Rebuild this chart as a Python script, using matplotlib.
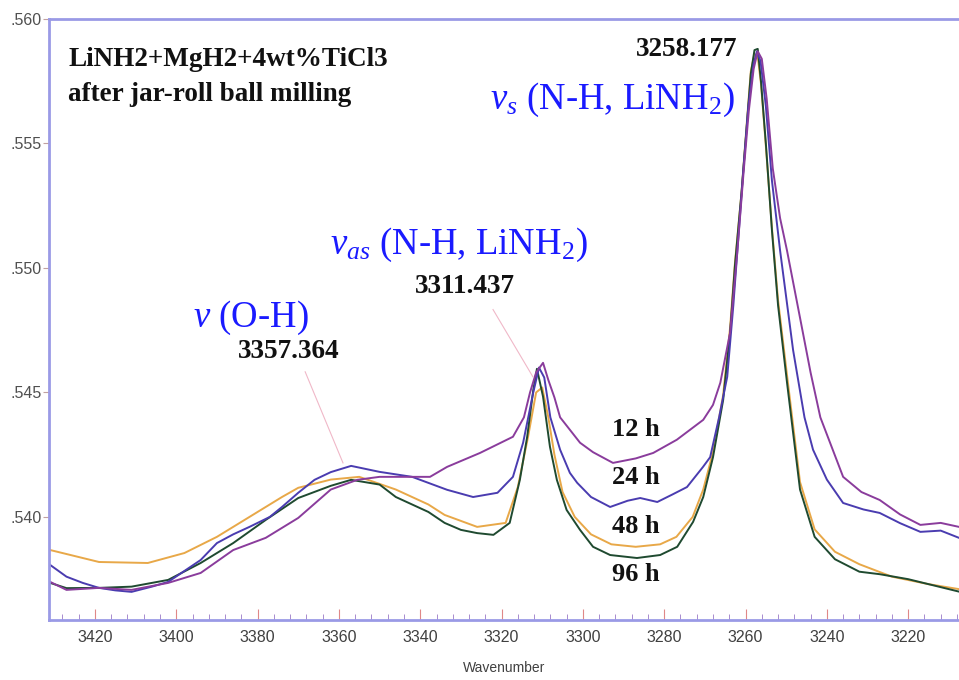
import numpy as np
import matplotlib.pyplot as plt
from matplotlib.ticker import MultipleLocator, FuncFormatter

plt.rcParams['mathtext.fontset'] = 'custom'
plt.rcParams['mathtext.rm'] = 'Liberation Serif'
plt.rcParams['mathtext.it'] = 'Liberation Serif:italic'

# spectra (wavenumber, absorbance)
wn_96 = [3431, 3427, 3419, 3411, 3402, 3394, 3386, 3378, 3370, 3362, 3357, 3350, 3346, 3338,
         3334, 3330, 3326, 3322, 3318, 3315.5, 3313.7, 3312.2, 3311.3, 3309.8, 3308.1, 3306.4,
         3304, 3300.7, 3297.5, 3293.3, 3286.7, 3281, 3276.8, 3272.9, 3270.4, 3268, 3265.5,
         3263.8, 3262.6, 3261, 3259.8, 3258.7, 3257.8, 3257, 3256.2, 3255, 3253.5, 3252,
         3249.8, 3246.6, 3243, 3238, 3232, 3227, 3220, 3213, 3207.5]
ab_96 = [.53735, .53714, .53715, .53720, .53747, .53815, .53895, .53988, .54076, .54125, .54149,
         .54130, .54080, .54020, .53976, .53948, .53935, .53928, .53976, .54149, .54322, .54510,
         .54595, .54483, .54282, .54149, .54028, .53948, .53880, .53847, .53835, .53847, .53880,
         .53980, .54080, .54240, .54470, .54740, .55010, .5530, .5555, .5578, .55875, .5588,
         .5575, .5550, .5515, .5485, .5454, .5411, .5392, .5383, .5378, .5377, .53750, .53722,
         .53700]

wn_48 = [3431, 3419, 3407, 3398, 3390, 3382, 3374, 3370, 3362, 3355, 3346, 3338, 3334, 3326,
         3319, 3316, 3313.5, 3311.5, 3310, 3308.5, 3307, 3305, 3302, 3298, 3293, 3287, 3281,
         3277, 3273, 3270.4, 3268, 3265.5, 3263.8, 3262.6, 3261, 3259.8, 3258.7, 3257.8, 3257,
         3256.2, 3255, 3253.5, 3252, 3249.8, 3246.6, 3243, 3238, 3232, 3224, 3215, 3207.5]
ab_48 = [.53867, .53819, .53815, .53855, .5392, .5400, .5408, .54117, .5415, .54161, .5411,
         .54050, .54008, .5396, .53976, .5412, .5432, .5450, .5452, .5440, .5425, .5410, .5400,
         .5393, .5389, .5388, .5389, .5392, .5400, .5411, .5426, .5449, .5476, .5502, .5530,
         .5556, .5579, .5586, .5585, .5574, .5549, .5516, .5487, .5457, .5414, .5395, .5386,
         .5381, .5376, .5373, .5371]

wn_24 = [3431, 3427, 3423, 3419, 3415, 3411, 3406, 3402, 3394, 3390, 3386, 3382, 3377, 3374,
         3370, 3366, 3362, 3357, 3350, 3342, 3333.4, 3327, 3321, 3317.2, 3314.7, 3312.2, 3310.8,
         3309.5, 3308, 3305.6, 3303.2, 3301.4, 3298, 3293.3, 3289, 3285.9, 3281.7, 3278, 3274.4,
         3270.5, 3268.7, 3266.5, 3264.5, 3263, 3262, 3260.5, 3259.3, 3258, 3257.2, 3256.3, 3255,
         3253.5, 3251.5, 3248.3, 3245.5, 3243.4, 3240, 3236, 3231, 3227, 3222, 3217, 3212, 3207.5]
ab_24 = [.53807, .53760, .53735, .53715, .53705, .53699, .53720, .53739, .53827, .53895, .53930,
         .53960, .5400, .5404, .54097, .54149, .54180, .54205, .54181, .54161, .54109, .54080,
         .54097, .54161, .54298, .54500, .54600, .54560, .5440, .5427, .54177, .54137, .5408,
         .54040, .54065, .54076, .54060, .5409, .54120, .5420, .54240, .5440, .54563, .5485,
         .5507, .5540, .5565, .5582, .5587, .5583, .5565, .5535, .5507, .5467, .5440, .5427,
         .5415, .54056, .54030, .54016, .53975, .53940, .53945, .53916]

wn_12 = [3431, 3427, 3419, 3411, 3402, 3394, 3386, 3378, 3370, 3362, 3355.5, 3350, 3337.6,
         3333.4, 3325.3, 3317.2, 3314.5, 3313, 3311.5, 3309.8, 3308.5, 3307, 3305.6, 3300.7,
         3297.5, 3292.6, 3287, 3282.7, 3276.9, 3270.4, 3268, 3266.2, 3263.8, 3262, 3260.5,
         3259.2, 3258, 3257, 3256, 3254.8, 3253.3, 3251.5, 3249.8, 3246.6, 3244, 3241.6, 3236,
         3231.5, 3227, 3222, 3217, 3212, 3207.5]
ab_12 = [.53739, .53707, .53715, .53707, .53735, .53775, .53867, .53916, .53996, .54110, .54149,
         .54161, .54161, .54201, .54257, .54322, .5440, .5450, .5458, .54619, .5455, .5448,
         .5440, .54298, .54260, .54217, .54235, .54257, .5431, .5439, .5445, .54539, .5474,
         .5507, .5538, .5563, .5580, .5587, .5584, .5568, .5540, .5520, .5507, .5480, .5458,
         .5440, .54161, .5410, .54068, .54010, .53968, .53976, .5396]

series = [(wn_48, ab_48, '#e8a848'), (wn_96, ab_96, '#1f4a30'),
          (wn_24, ab_24, '#4a3cb0'), (wn_12, ab_12, '#8a3c9c')]
hours = ['12 h', '24 h', '48 h', '96 h']
hour_y = [.5435, .5416, .5396, .5377]

fig = plt.figure(figsize=(9.59, 6.8), dpi=100)
ax = fig.add_axes([49/959, 60/680, 910/959, 601/680])

for wn, ab, c in series:
    ax.plot(wn, ab, color=c, lw=1.4)

ax.set_xlim(3431.3, 3207.5)
ax.set_ylim(0.53586, 0.560)

spine_c = '#9a9ae6'
for s in ['left', 'bottom', 'top']:
    ax.spines[s].set_color(spine_c)
    ax.spines[s].set_linewidth(2)
ax.spines['right'].set_visible(False)

ax.xaxis.set_major_locator(MultipleLocator(20))
ax.xaxis.set_minor_locator(MultipleLocator(4))
ax.yaxis.set_major_locator(MultipleLocator(0.005))
ax.yaxis.set_major_formatter(FuncFormatter(lambda v, p: ('%.3f' % v)[1:]))
ax.tick_params(axis='x', which='major', direction='in', length=8, color='#e08888',
               labelsize=11.5, labelcolor='#404040', pad=7)
ax.tick_params(axis='x', which='minor', direction='in', length=4, color='#9a78c8')
ax.tick_params(axis='y', which='major', direction='out', length=4, color='#c0a0a0',
               labelsize=11.5, labelcolor='#505050', pad=1)
for lab in ax.get_xticklabels() + ax.get_yticklabels():
    lab.set_family('Liberation Sans')
ax.set_xlabel('Wavenumber', fontsize=10, color='#404040', family='Liberation Sans', labelpad=12)

serif = 'Liberation Serif'
ax.text(0.021, 0.932, 'LiNH2+MgH2+4wt%TiCl3', transform=ax.transAxes, family=serif,
        fontsize=19.5, fontweight='bold', va='center', color='#111111')
ax.text(0.021, 0.874, 'after jar-roll ball milling', transform=ax.transAxes, family=serif,
        fontsize=19.5, fontweight='bold', va='center', color='#111111')

blue = '#1a1aff'
ax.text(3262.1, 0.55878, '3258.177', family=serif, fontsize=19.5, fontweight='bold',
        ha='right', va='center', color='#111111')
ax.text(3322.8, 0.55677, r'$v_s$ (N-H, LiNH$_2$)', family=serif, fontsize=26.5,
        ha='left', va='center', color=blue)
ax.text(3362.2, 0.55094, r'$v_{as}$ (N-H, LiNH$_2$)', family=serif, fontsize=26.5,
        ha='left', va='center', color=blue)
ax.text(3329, 0.54925, '3311.437', family=serif, fontsize=19.5, fontweight='bold',
        ha='center', va='center', color='#111111')
ax.text(3395.9, 0.5480, r'$v$ (O-H)', family=serif, fontsize=26.5,
        ha='left', va='center', color=blue)
ax.text(3372.3, 0.54664, '3357.364', family=serif, fontsize=19.5, fontweight='bold',
        ha='center', va='center', color='#111111')

for h, y in zip(hours, hour_y):
    ax.text(3286.9, y, h, family=serif, fontsize=19, fontweight='bold',
            ha='center', va='center', color='#111111')

# peak marker leader lines
ax.plot([3368.3, 3359], [0.54583, 0.54217], color='#f0b8c8', lw=0.8)
ax.plot([3322.1, 3312.3], [0.54833, 0.54563], color='#f0b8c8', lw=0.8)

fig.savefig('out.png', dpi=100)
